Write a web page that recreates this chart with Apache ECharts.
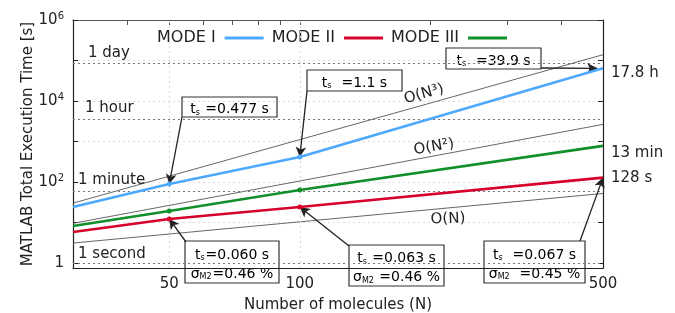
<!DOCTYPE html>
<html>
<head>
<meta charset="utf-8">
<script src="https://cdn.jsdelivr.net/npm/echarts@6/dist/echarts.min.js"></script>
<style>
  html, body { margin: 0; padding: 0; background: #fff; }
  #chart { width: 675px; height: 313px; }
</style>
</head>
<body>
<div id="chart"></div>
<script>
// values
const molecules = [30, 50, 100, 500];
const modeI = [24, 89, 414, 64080];
const modeII = [5.8, 12.2, 24, 128];
const modeIII = [8.2, 19.2, 63, 780];
const endText = ['17.8 h', '128 s', '13 min'];

const refN = [30, 500];
const orderN3 = [30, 138900];
const orderN2 = [9.5, 2640];
const orderN1 = [3.1, 52];

const timeMarks = [86400, 3600, 60, 1];
const timeLabels = ['1 day', '1 hour', '1 minute', '1 second'];

const xTickLabels = [50, 100, 500];
const topTicks = [40, 50, 60, 70, 80, 90, 100, 200, 300, 400];

const FONT = 'DejaVu Sans';
const INK = '#222';

function pairs (xs, ys) {
  return xs.map((x, i) => [x, ys[i]]);
}

function yLabel (v) {
  const e = Math.round(Math.log10(v));
  if (Math.abs(Math.log10(v) - e) > 1e-6 || e % 2 !== 0) return '';
  if (e === 0) return '{b|1}';
  return '{b|10}{s|' + e + '}';
}

// box with text, pixel placed
function box (x, y, w, h, lines) {
  const rich = {
    n: { fontSize: 14, fontFamily: FONT, color: INK, lineHeight: 19, verticalAlign: 'bottom' },
    s: { fontSize: 8, fontFamily: FONT, color: INK, lineHeight: 9, verticalAlign: 'bottom', padding: [0, 1, 0, 0] }
  };
  return {
    type: 'group', x: x, y: y, z: 50,
    children: [
      { type: 'rect', shape: { x: 0, y: 0, width: w, height: h }, style: { fill: '#fff', stroke: '#333', lineWidth: 1.2 } },
      { type: 'text', x: w / 2, y: h / 2, style: { text: lines, rich: rich, align: 'center', verticalAlign: 'middle' } }
    ]
  };
}

function orderText (x, y, txt, rot) {
  return {
    type: 'text', x: x, y: y, rotation: rot, z: 40,
    style: { text: txt, fontSize: 15, fontFamily: FONT, fill: INK, align: 'center', verticalAlign: 'middle' }
  };
}

function modeSeries (name, ys, color, label, shift) {
  return {
    name: name,
    type: 'line',
    data: pairs(molecules, ys),
    symbol: 'circle',
    symbolSize: (v) => (v[0] === 50 || v[0] === 100) ? 5 : 0,
    lineStyle: { color: color, width: 2.6 },
    itemStyle: { color: color },
    z: 10,
    endLabel: {
      show: true, formatter: label, color: INK, fontSize: 15, fontFamily: FONT,
      distance: 8, offset: [0, shift]
    }
  };
}

function refSeries (name, ys) {
  return {
    name: name,
    type: 'line',
    data: pairs(refN, ys),
    symbol: 'none',
    silent: true,
    lineStyle: { color: '#555', width: 0.9 },
    z: 3
  };
}

function arrow (px, py, cx, cy) {
  return [{ x: px, y: py }, { coord: [cx, cy] }];
}

const myChart = echarts.init(document.getElementById('chart'));

const timeLines = timeMarks.map((v, i) => ({
  yAxis: v,
  lineStyle: { color: '#777', type: [2, 3], width: 1.1 },
  label: {
    show: true, position: 'insideStartTop', formatter: timeLabels[i],
    color: INK, fontSize: 15, fontFamily: FONT,
    distance: [[15, 2], [12, 3], [5, 3], [5, 1]][i]
  }
}));

const gridLines = [50, 100].map(n => ({
  xAxis: n,
  lineStyle: { color: '#d8d8d8', type: [2, 3], width: 1 },
  label: { show: false }
}));

myChart.setOption({
  animation: false,
  textStyle: { fontFamily: FONT },
  grid: { left: 73, right: 72, top: 20, bottom: 45, outerBoundsMode: 'none', containLabel: false },
  legend: {
    data: ['MODE I', 'MODE II', 'MODE III'],
    left: 152, top: 25,
    align: 'right',
    icon: 'rect',
    itemWidth: 39, itemHeight: 3, itemGap: 8,
    textStyle: { fontSize: 16, color: INK, fontFamily: FONT, padding: [0, 4, 0, 0] }
  },
  xAxis: [{
    type: 'log', logBase: 10, min: 30, max: 500,
    name: 'Number of molecules (N)', nameLocation: 'middle', nameGap: 30, nameMoveOverlap: false,
    nameTextStyle: { fontSize: 15, color: INK, fontFamily: FONT },
    axisLine: { show: true, lineStyle: { color: INK, width: 1.2 } },
    axisTick: { show: false },
    axisLabel: { customValues: xTickLabels, fontSize: 15, color: INK, fontFamily: FONT, margin: 9 },
    splitLine: { show: false }
  }, {
    type: 'log', logBase: 10, min: 30, max: 500, position: 'top',
    axisLine: { show: true, lineStyle: { color: '#555', width: 1.2 } },
    axisTick: { show: true, inside: true, length: 5, customValues: topTicks, lineStyle: { color: '#555' } },
    axisLabel: { show: false },
    splitLine: { show: false }
  }],
  yAxis: [{
    type: 'log', logBase: 10, min: 0.75, max: 1e6,
    name: 'MATLAB Total Execution Time [s]', nameLocation: 'middle', nameGap: 37, nameMoveOverlap: false,
    nameTextStyle: { fontSize: 15, color: INK, fontFamily: FONT },
    axisLine: { show: true, lineStyle: { color: INK, width: 1.2 } },
    axisTick: { show: true, inside: true, length: 5, lineStyle: { color: INK } },
    axisLabel: {
      formatter: yLabel, margin: 9,
      rich: {
        b: { fontSize: 15, color: INK, fontFamily: FONT },
        s: { fontSize: 10, color: INK, fontFamily: FONT, verticalAlign: 'top', padding: [0, 0, 8, 0] }
      }
    },
    splitLine: { show: true, lineStyle: { color: '#dcdcdc', type: [2, 3], width: 1 } }
  }, {
    type: 'log', logBase: 10, min: 0.75, max: 1e6, position: 'right',
    axisLine: { show: true, lineStyle: { color: INK, width: 1.2 } },
    axisTick: { show: true, inside: true, length: 5, lineStyle: { color: INK } },
    axisLabel: { show: false },
    splitLine: { show: false }
  }],
  series: [
    refSeries('O(N3)', orderN3),
    refSeries('O(N2)', orderN2),
    refSeries('O(N)', orderN1),
    {
      name: 'marks', type: 'line', data: [], silent: true,
      markLine: { silent: true, symbol: 'none', data: timeLines.concat(gridLines) }
    },
    modeSeries('MODE I', modeI, '#4da9ff', endText[0], 5),
    modeSeries('MODE II', modeII, '#d6002a', endText[1], 0),
    modeSeries('MODE III', modeIII, '#108f2a', endText[2], 7),
    {
      name: 'arrows', type: 'line', data: [], silent: true, z: 30,
      markLine: {
        silent: true,
        symbol: ['none', 'arrow'], symbolSize: [8, 10],
        lineStyle: { color: '#222', type: 'solid', width: 1.3 },
        label: { show: false },
        data: [
          arrow(182, 117, 50, modeI[1]),
          arrow(307, 91, 100, modeI[2]),
          arrow(541, 68, 485, modeI[3]),
          arrow(186, 242, 50, modeII[1]),
          arrow(349, 246, 100, modeII[2]),
          arrow(580, 241, 500, modeII[3])
        ]
      }
    }
  ],
  graphic: [
    box(182, 97, 95, 20, '{n|t}{s|s}{n| =0.477 s}'),
    box(307, 70, 95, 21, '{n|t}{s|s}{n|  =1.1 s}'),
    box(446, 48, 95, 21, '{n|t}{s|s}{n|  =39.9 s}'),
    box(185, 241, 94, 42, '{n|t}{s|s}{n|=0.060 s}\n{n|σ}{s|M2}{n|=0.46 %}'),
    box(349, 245, 95, 41, '{n|t}{s|s}{n| =0.063 s}\n{n|σ}{s|M2}{n| =0.46 %}'),
    box(484, 241, 101, 42, '{n|t}{s|s}{n|  =0.067 s}\n{n|σ}{s|M2}{n|  =0.45 %}'),
    orderText(424, 94, 'O(N³)', 0.27),
    orderText(434, 147, 'O(N²)', 0.17),
    orderText(448, 219, 'O(N)', 0.04)
  ]
});
</script>
</body>
</html>
